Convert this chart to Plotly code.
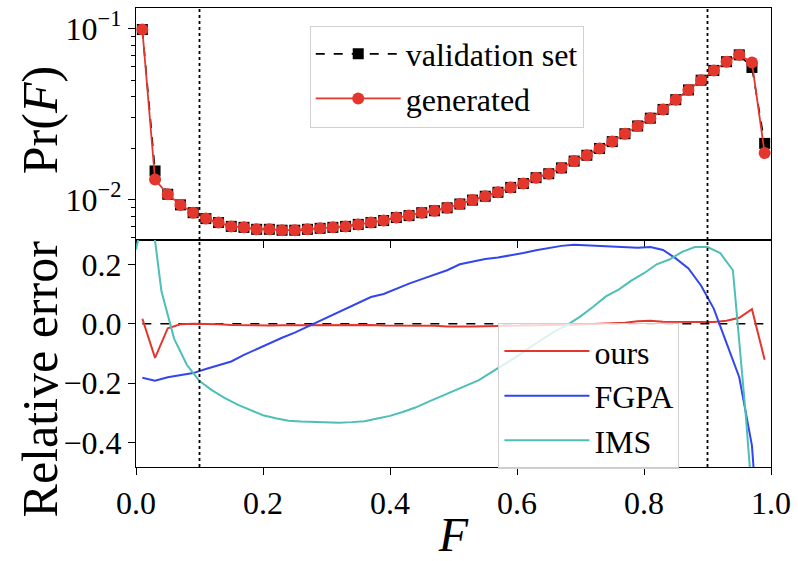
import plotly.graph_objects as go
from plotly.subplots import make_subplots

# ---------------- data ----------------
f_bins = [0.01, 0.03, 0.05, 0.07, 0.09, 0.11, 0.13, 0.15, 0.17, 0.19,
          0.21, 0.23, 0.25, 0.27, 0.29, 0.31, 0.33, 0.35, 0.37, 0.39,
          0.41, 0.43, 0.45, 0.47, 0.49, 0.51, 0.53, 0.55, 0.57, 0.59,
          0.61, 0.63, 0.65, 0.67, 0.69, 0.71, 0.73, 0.75, 0.77, 0.79,
          0.81, 0.83, 0.85, 0.87, 0.89, 0.91, 0.93, 0.95, 0.97, 0.99]

pr_validation = [0.0987, 0.0147, 0.01074, 0.00931, 0.00838, 0.00774, 0.00734, 0.00697, 0.00688, 0.0067,
                 0.0067, 0.00662, 0.00662, 0.0067, 0.00679, 0.00688, 0.00697, 0.00716, 0.00734, 0.00754,
                 0.00785, 0.00806, 0.00838, 0.0086, 0.00895, 0.00942, 0.00993, 0.01046, 0.01103, 0.01178,
                 0.01242, 0.01343, 0.01416, 0.01532, 0.01679, 0.01816, 0.0199, 0.02182, 0.02425, 0.02693,
                 0.02991, 0.03365, 0.03837, 0.04375, 0.04989, 0.05689, 0.06399, 0.07017, 0.0592, 0.0213]

pr_generated = [0.0987, 0.0131, 0.01074, 0.00931, 0.00838, 0.00774, 0.00734, 0.00697, 0.00688, 0.0067,
                0.0067, 0.00662, 0.00662, 0.0067, 0.00679, 0.00688, 0.00697, 0.00716, 0.00734, 0.00754,
                0.00785, 0.00806, 0.00838, 0.0086, 0.00895, 0.00942, 0.00993, 0.01046, 0.01103, 0.01178,
                0.01242, 0.01343, 0.01416, 0.01532, 0.01679, 0.01816, 0.0199, 0.02182, 0.02425, 0.02693,
                0.02991, 0.03365, 0.03837, 0.04375, 0.04989, 0.05689, 0.06399, 0.07017, 0.0632, 0.0187]

rel_ours = [0.017, -0.115, -0.015, -0.002, 0.0, 0.0, -0.002, -0.004, -0.005, -0.006,
            -0.006, -0.005, -0.005, -0.004, -0.005, -0.004, -0.004, -0.003, -0.004, -0.006,
            -0.006, -0.007, -0.006, -0.007, -0.009, -0.01, -0.009, -0.008, -0.008, -0.007,
            -0.006, -0.005, -0.005, -0.004, -0.003, -0.002, -0.001, 0.0, 0.003, 0.008,
            0.01, 0.007, 0.006, 0.007, 0.006, 0.006, 0.01, 0.02, 0.049, -0.121]

rel_fgpa = [-0.182, -0.192, -0.18, -0.172, -0.166, -0.152, -0.14, -0.127, -0.105, -0.085,
            -0.065, -0.047, -0.03, -0.01, 0.01, 0.03, 0.05, 0.072, 0.09, 0.1,
            0.118, 0.135, 0.15, 0.165, 0.18, 0.2, 0.21, 0.218, 0.223, 0.23,
            0.238, 0.247, 0.255, 0.262, 0.266, 0.264, 0.261, 0.259, 0.257, 0.256,
            0.258, 0.248, 0.22, 0.186, 0.128, 0.05, -0.065, -0.18, -0.41, -1.0]

f_ims = [0.00, 0.02, 0.04, 0.06, 0.08, 0.10, 0.12, 0.14, 0.16, 0.18,
         0.20, 0.22, 0.24, 0.26, 0.28, 0.30, 0.32, 0.34, 0.36, 0.38,
         0.40, 0.42, 0.44, 0.46, 0.48, 0.50, 0.52, 0.54, 0.56, 0.58,
         0.60, 0.62, 0.64, 0.66, 0.68, 0.70, 0.72, 0.74, 0.76, 0.78,
         0.80, 0.82, 0.84, 0.86, 0.88, 0.90, 0.92, 0.94, 0.96, 0.98]

rel_ims = [0.25, 0.45, 0.11, -0.05, -0.138, -0.193, -0.224, -0.25, -0.272, -0.29,
           -0.308, -0.318, -0.326, -0.329, -0.331, -0.333, -0.333, -0.331, -0.328, -0.319,
           -0.31, -0.297, -0.282, -0.263, -0.245, -0.228, -0.21, -0.19, -0.163, -0.137,
           -0.11, -0.08, -0.052, -0.025, -0.003, 0.025, 0.057, 0.092, 0.115, 0.145,
           0.17, 0.2, 0.216, 0.242, 0.258, 0.258, 0.238, 0.18, -0.30, -0.85]

zero_ref = [0.0] * len(f_bins)
marker_lines = [0.1, 0.9]

top_ticks = [0.01, 0.1]
top_ticktext = ["10<sup>\u22122</sup>", "10<sup>\u22121</sup>"]
top_minor = [0.006, 0.007, 0.008, 0.009, 0.02, 0.03, 0.04, 0.05, 0.06, 0.07, 0.08, 0.09]
bot_ticks = [-0.4, -0.2, 0.0, 0.2]
bot_ticktext = ["\u22120.4", "\u22120.2", "0.0", "0.2"]
x_ticks = [0.0, 0.2, 0.4, 0.6, 0.8, 1.0]
x_ticktext = ["0.0", "0.2", "0.4", "0.6", "0.8", "1.0"]

# ---------------- style ----------------
FONT = "Liberation Serif"
RED = "#e3372e"
BLUE = "#3345ee"
CYAN = "#4dbfb7"
W, H = 798, 561
L, R, T, B = 136, 26, 7, 83
PW, PH = W - L - R, H - T - B


def px_x(px):
    return (px - L) / PW


def px_y(py):
    return 1 - (py - T) / PH


fig = make_subplots(rows=2, cols=1, shared_xaxes=True, vertical_spacing=0,
                    row_heights=[238, 233])

fig.add_trace(go.Scatter(x=f_bins, y=pr_validation, mode="lines+markers", name="validation set",
                         line=dict(color="black", width=1.6, dash="dash"),
                         marker=dict(symbol="square", size=11, color="black"),
                         legend="legend"), row=1, col=1)
fig.add_trace(go.Scatter(x=f_bins, y=pr_generated, mode="lines+markers", name="generated",
                         line=dict(color=RED, width=1.8),
                         marker=dict(symbol="circle", size=12, color=RED),
                         legend="legend"), row=1, col=1)

fig.add_trace(go.Scatter(x=f_bins, y=zero_ref, mode="lines", showlegend=False,
                         line=dict(color="black", width=1.6, dash="dash")), row=2, col=1)
fig.add_trace(go.Scatter(x=f_bins, y=rel_ours, mode="lines", name="ours",
                         line=dict(color=RED, width=2), legend="legend2"), row=2, col=1)
fig.add_trace(go.Scatter(x=f_bins, y=rel_fgpa, mode="lines", name="FGPA",
                         line=dict(color=BLUE, width=2), legend="legend2"), row=2, col=1)
fig.add_trace(go.Scatter(x=f_ims, y=rel_ims, mode="lines", name="IMS",
                         line=dict(color=CYAN, width=2), legend="legend2"), row=2, col=1)

for xv in marker_lines:
    for r in (1, 2):
        fig.add_vline(x=xv, line=dict(color="black", width=1.8, dash="dot"), row=r, col=1)

axis_common = dict(showline=True, linecolor="black", linewidth=1.3, mirror=True,
                   ticks="outside", ticklen=7, tickwidth=1.2, tickcolor="black",
                   showgrid=False, zeroline=False,
                   tickfont=dict(family=FONT, size=32, color="black"))

fig.update_xaxes(range=[0, 1], tickvals=x_ticks, ticktext=x_ticktext, **axis_common)
fig.update_xaxes(showticklabels=False, row=1, col=1)
fig.update_xaxes(title=dict(text="<i>F</i>", font=dict(family=FONT, size=48, color="black"),
                            standoff=0), row=2, col=1)

fig.update_yaxes(type="log", range=[-2.236, -0.880], tickvals=top_ticks, ticktext=top_ticktext,
                 minor=dict(tickvals=top_minor, ticks="outside", ticklen=4, tickwidth=1, tickcolor="black"),
                 row=1, col=1, **axis_common)
fig.update_yaxes(range=[-0.482, 0.282], tickvals=bot_ticks, ticktext=bot_ticktext,
                 row=2, col=1, **axis_common)

# y-axis titles as rotated annotations, placed like the reference
fig.add_annotation(text="Pr(<i>F</i>)", textangle=-90, xref="paper", yref="paper",
                   x=px_x(40), y=px_y(122), xanchor="center", yanchor="middle", showarrow=False,
                   font=dict(family=FONT, size=50, color="black"))
fig.add_annotation(text="Relative error", textangle=-90, xref="paper", yref="paper",
                   x=px_x(40), y=px_y(388), xanchor="center", yanchor="middle", showarrow=False,
                   font=dict(family=FONT, size=50, color="black"))

fig.update_layout(
    width=W, height=H,
    margin=dict(l=L, r=R, t=T, b=B),
    paper_bgcolor="white", plot_bgcolor="white",
    font=dict(family=FONT, color="black"),
    legend=dict(x=px_x(310), y=px_y(25), xanchor="left", yanchor="top", itemwidth=85,
                bgcolor="rgba(255,255,255,0.85)", bordercolor="#d0d0d0", borderwidth=1,
                font=dict(family=FONT, size=32, color="black"), tracegroupgap=0),
    legend2=dict(x=px_x(499), y=px_y(330), xanchor="left", yanchor="top", itemwidth=85,
                 bgcolor="rgba(255,255,255,0.8)", bordercolor="#d0d0d0", borderwidth=1,
                 font=dict(family=FONT, size=32, color="black"), tracegroupgap=0),
)

fig.write_html("out.html")
